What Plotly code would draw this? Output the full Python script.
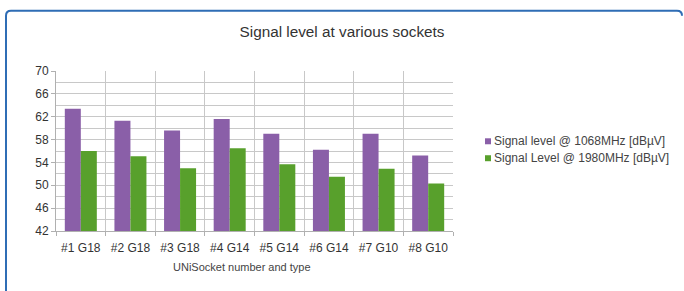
import plotly.graph_objects as go

categories = ["#1 G18", "#2 G18", "#3 G18", "#4 G14", "#5 G14", "#6 G14", "#7 G10", "#8 G10"]
series_names = ["Signal level @ 1068MHz [dBµV]", "Signal Level @ 1980MHz [dBµV]"]
level_1068 = [63.4, 61.3, 59.6, 61.6, 59.0, 56.2, 59.0, 55.2]
level_1980 = [56.0, 55.1, 53.0, 56.5, 53.7, 51.5, 52.9, 50.3]
y_ticks = [42, 46, 50, 54, 58, 62, 66, 70]
colors = ["#8a5fa8", "#58a02c"]

W, H = 684, 291
L, R, T, B = 56, 453, 70.5, 231  # plot area in pixels

def px(x):
    return (x - L) / (R - L)

def py(y):
    return (B - y) / (B - T)

FONT = "Liberation Sans, Arial, sans-serif"

fig = go.Figure()
for name, vals, c in zip(series_names, [level_1068, level_1980], colors):
    fig.add_trace(go.Bar(x=categories, y=vals, name=name, marker=dict(color=c, line=dict(width=0)),
                         showlegend=False))

shapes = []
# rounded blue frame
x0, x1, yt, yb, r = px(6), px(682), py(10), py(300), 5
rx, ry = r / (R - L), r / (B - T)
path = (f"M {x0},{yb} L {x0},{yt - ry} Q {x0},{yt} {x0 + rx},{yt} "
        f"L {x1 - rx},{yt} Q {x1},{yt} {x1},{yt - ry}")
shapes.append(dict(type="path", xref="paper", yref="paper", path=path,
                   line=dict(color="#2f6db5", width=2)))

annotations = [
    dict(text="UNiSocket number and type", x=px(242), y=py(267.5), xref="paper", yref="paper",
         showarrow=False, xanchor="center", yanchor="middle",
         font=dict(family=FONT, size=11, color="#444444")),
]
leg_y = [141, 158]
for name, c, yy in zip(series_names, colors, leg_y):
    shapes.append(dict(type="rect", xref="paper", yref="paper",
                       x0=px(485), x1=px(491), y0=py(yy + 3), y1=py(yy - 3),
                       fillcolor=c, line=dict(width=0)))
    annotations.append(dict(text=name, x=px(492), y=py(yy), xref="paper", yref="paper",
                            showarrow=False, xanchor="left", yanchor="middle",
                            font=dict(family=FONT, size=12, color="#444444")))

fig.update_layout(
    width=W, height=H,
    margin=dict(l=L, r=W - R, t=T, b=H - B, pad=0),
    paper_bgcolor="white", plot_bgcolor="white",
    title=dict(text="Signal level at various sockets", x=0.5, xref="container", xanchor="center",
               y=1 - 32 / H, yref="container", yanchor="middle",
               font=dict(family=FONT, size=15.3, color="#333333")),
    barmode="group", bargap=0.355, bargroupgap=0,
    shapes=shapes, annotations=annotations,
    font=dict(family=FONT, size=12, color="#333333"),
)
fig.update_xaxes(type="category", tickson="boundaries", showgrid=True, gridcolor="#c8c8c8",
                 gridwidth=1, showline=True, linecolor="#b0b0b0", linewidth=1,
                 ticks="outside", ticklen=4, tickcolor="#b0b0b0", ticklabelstandoff=6,
                 tickfont=dict(family=FONT, size=12, color="#333333"))
fig.update_yaxes(range=[42, 70], tickvals=y_ticks, showgrid=True, gridcolor="#c8c8c8",
                 showline=True, linecolor="#b0b0b0", linewidth=1, mirror=False,
                 ticks="outside", ticklen=4, tickcolor="#b0b0b0", zeroline=False,
                 minor=dict(dtick=2, showgrid=True, gridcolor="#c8c8c8", ticks=""),
                 tickfont=dict(family=FONT, size=12, color="#333333"))

fig.write_html("out.html", config={"displayModeBar": False},
               post_script="document.body.style.margin='0';document.body.style.padding='0';")
